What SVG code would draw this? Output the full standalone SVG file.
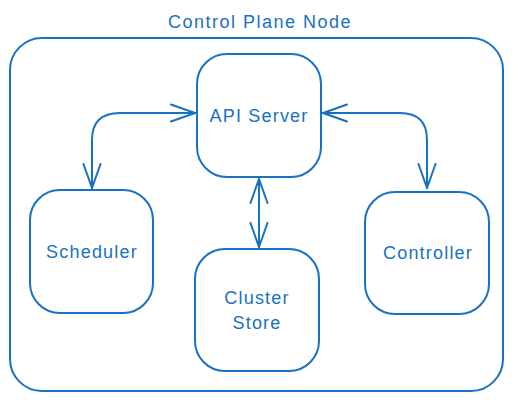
<svg xmlns="http://www.w3.org/2000/svg" width="513" height="401" viewBox="0 0 513 401">
<defs>
<style>
.box{fill:none;stroke:#1971c2;stroke-width:2}
.con{fill:none;stroke:#1971c2;stroke-width:2;stroke-linecap:round;stroke-linejoin:round}
.t{font-family:"Liberation Sans",Arial,sans-serif;fill:#1971c2;text-anchor:middle;font-size:18px;letter-spacing:1.2px}
</style>
<marker id="ah" viewBox="0 0 26 20" refX="25" refY="10" markerWidth="26" markerHeight="20" markerUnits="userSpaceOnUse" orient="auto-start-reverse">
<path d="M1,1.5 L25,10 L1,18.5" fill="none" stroke="#1971c2" stroke-width="2" stroke-linecap="round"/>
</marker>
</defs>
<rect width="513" height="401" fill="#ffffff"/>
<g id="control-plane">
<rect class="box" x="10" y="38" width="493" height="353" rx="32"/>
<text class="t" x="260" y="28" style="letter-spacing:1.5px">Control Plane Node</text>
</g>
<g id="api-server">
<rect class="box" x="197" y="54" width="124" height="123" rx="30"/>
<text class="t" x="259" y="122">API Server</text>
</g>
<g id="scheduler">
<rect class="box" x="30" y="190" width="123" height="123" rx="30"/>
<text class="t" x="92" y="258">Scheduler</text>
</g>
<g id="cluster-store">
<rect class="box" x="195" y="249" width="124" height="122" rx="30"/>
<text class="t" x="257" y="304">Cluster</text>
<text class="t" x="257" y="329">Store</text>
</g>
<g id="controller">
<rect class="box" x="365" y="192" width="124" height="122" rx="30"/>
<text class="t" x="428" y="259">Controller</text>
</g>
<g id="connectors">
<path class="con" d="M195,113 L120,113 Q92,113 92,140 L92,188" marker-start="url(#ah)" marker-end="url(#ah)"/>
<path class="con" d="M323,113 L400,113 Q427,113 427,140 L427,188" marker-start="url(#ah)" marker-end="url(#ah)"/>
<path class="con" d="M259,179 L259,247" marker-start="url(#ah)" marker-end="url(#ah)"/>
</g>
</svg>
